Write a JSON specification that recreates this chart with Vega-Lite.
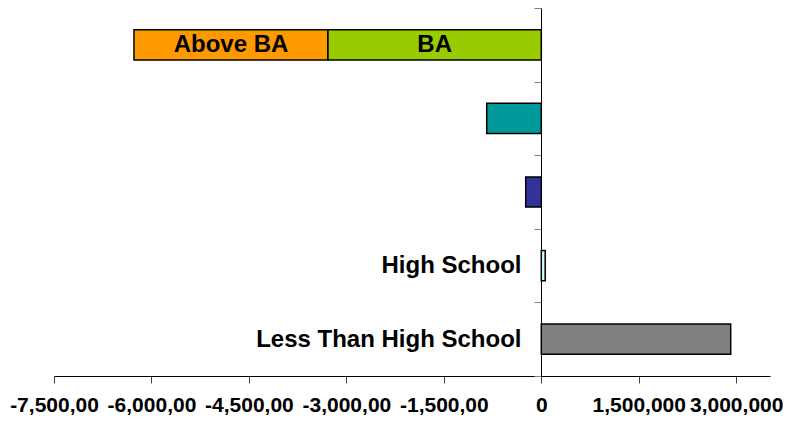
{
  "$schema": "https://vega.github.io/schema/vega-lite/v6.json",
  "width": 716,
  "height": 368,
  "autosize": {"type": "none"},
  "padding": {"left": 54, "top": 8, "right": 16, "bottom": 48},
  "background": "white",
  "config": {"view": {"stroke": null}, "font": "Liberation Sans"},
  "data": {
    "values": [
      {"level": "College Degree", "segment": "Above BA", "value": -2986000},
      {"level": "College Degree", "segment": "BA", "value": -3283000},
      {"level": "Some College", "segment": "Some College", "value": -840000},
      {"level": "Associate Degree", "segment": "Associate Degree", "value": -240000},
      {"level": "High School", "segment": "High School", "value": 60000},
      {"level": "Less Than High School", "segment": "Less Than High School", "value": 2915000}
    ]
  },
  "encoding": {
    "y": {
      "field": "level",
      "type": "nominal",
      "sort": ["College Degree", "Some College", "Associate Degree", "High School", "Less Than High School"],
      "scale": {"paddingInner": 0, "paddingOuter": 0},
      "axis": {
        "title": null,
        "orient": "left",
        "offset": -487,
        "domainColor": "black",
        "domainWidth": 1,
        "tickColor": "#808080",
        "tickSize": 7,
        "tickBand": "extent",
        "labelFont": "Liberation Sans",
        "labelFontSize": 24,
        "labelFontWeight": "bold",
        "labelColor": "black",
        "labelPadding": 13,
        "labelLimit": 400,
        "labelExpr": "indexof(['High School', 'Less Than High School'], datum.value) >= 0 ? datum.value : ''"
      }
    }
  },
  "layer": [
    {
      "mark": {"type": "bar", "height": {"band": 0.41}, "stroke": "black", "strokeWidth": 1.5},
      "encoding": {
        "x": {
          "field": "value",
          "type": "quantitative",
          "stack": "zero",
          "scale": {"domain": [-7500000, 3520000], "nice": false},
          "axis": {
            "title": null,
            "grid": false,
            "values": [-7500000, -6000000, -4500000, -3000000, -1500000, 0, 1500000, 3000000],
            "labelExpr": "datum.value < 0 ? '-' + slice(format(-datum.value, ','), 0, -1) : format(datum.value, ',')",
            "domainColor": "black",
            "domainWidth": 1,
            "tickColor": "#444444",
            "tickSize": 7,
            "labelFont": "Liberation Sans",
            "labelFontSize": 21,
            "labelFontWeight": "bold",
            "labelColor": "black",
            "labelPadding": 11,
            "labelFlush": false,
            "labelOverlap": false
          }
        },
        "order": {"field": "segment", "sort": "descending"},
        "color": {
          "field": "segment",
          "type": "nominal",
          "scale": {
            "domain": ["Above BA", "BA", "Some College", "Associate Degree", "High School", "Less Than High School"],
            "range": ["#FF9900", "#99CC00", "#009999", "#333399", "#CCFFFF", "#808080"]
          },
          "legend": null
        }
      }
    },
    {
      "transform": [{"filter": "datum.level == 'College Degree'"}],
      "mark": {"type": "text", "fontSize": 24, "fontWeight": "bold", "color": "black", "font": "Liberation Sans"},
      "encoding": {
        "x": {"field": "value", "type": "quantitative", "stack": "zero", "bandPosition": 0.5},
        "order": {"field": "segment", "sort": "descending"},
        "text": {"field": "segment"}
      }
    }
  ]
}
